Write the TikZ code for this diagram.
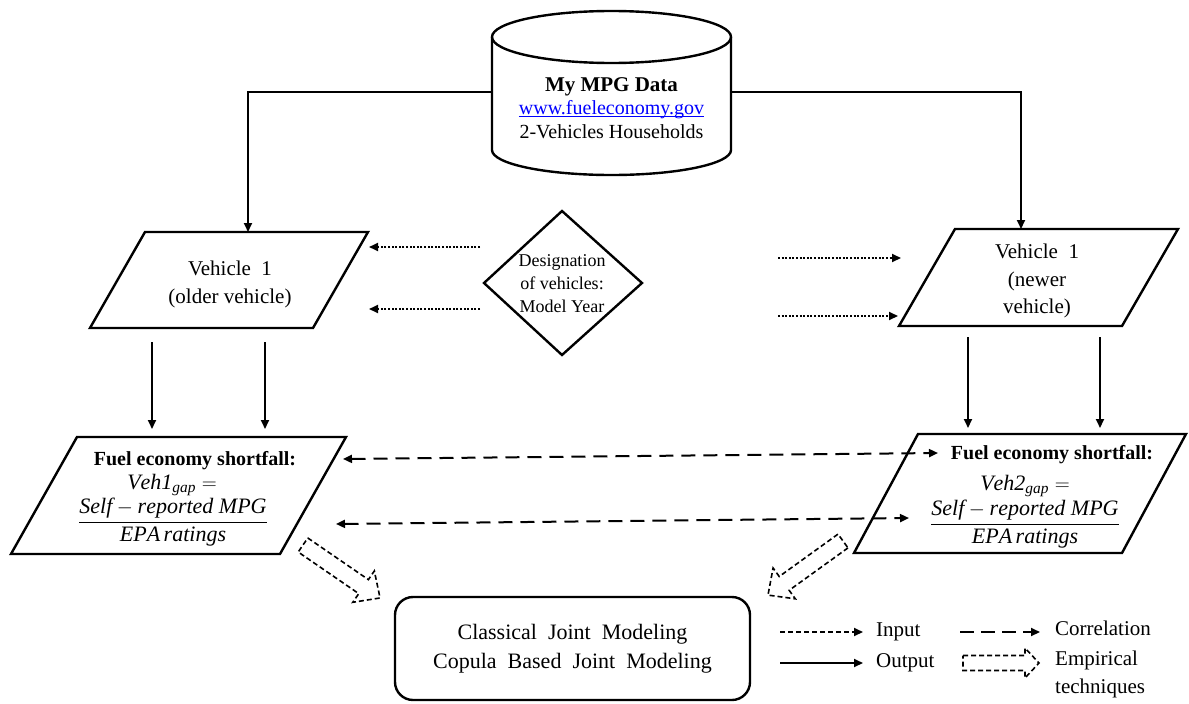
\documentclass[tikz,border=0pt]{standalone}
\usepackage{amsmath}
\usepackage{fontspec}
\setmainfont{Liberation Serif}
\usetikzlibrary{arrows.meta}
\newlength\lnkw
\newcommand\lnkul[1]{\settowidth\lnkw{#1}\rlap{\rule[-2.4pt]{\lnkw}{0.9pt}}#1}
\begin{document}
\begin{tikzpicture}[x=1pt,y=-1pt,
  box/.style={line width=2.4pt, line join=miter},
  conn/.style={line width=1.8pt, -{Triangle[length=9pt,width=8pt]}},
  inp/.style={line width=2pt, dash pattern=on 2pt off 1.6pt, -{Triangle[length=9pt,width=8pt]}},
  legin/.style={line width=2pt, dash pattern=on 5pt off 3pt, -{Triangle[length=9pt,width=8pt]}},
  corr/.style={line width=2pt, dash pattern=on 14pt off 8pt, {Triangle[length=9pt,width=8pt]}-{Triangle[length=9pt,width=8pt]}},
  legcorr/.style={line width=2pt, dash pattern=on 14pt off 7pt, -{Triangle[length=9pt,width=8pt]}},
  emp/.style={line width=1.6pt, dash pattern=on 5pt off 3pt, line join=miter},
  txt/.style={font=\fontsize{21}{28}\selectfont, align=center, inner sep=0pt},
  ltxt/.style={font=\fontsize{21}{28}\selectfont, align=left, anchor=west, inner sep=0pt},
]
\useasboundingbox (0,0) rectangle (1189,704);

% ---------- database cylinder ----------
\draw[box] (611.5,37) ellipse [x radius=119.5, y radius=26];
\draw[box] (492,37) -- (492,150)
  .. controls (492,163.8) and (545.5,175) .. (611.5,175)
  .. controls (677.5,175) and (731,163.8) .. (731,150) -- (731,37);
\node[txt, font=\fontsize{20}{23.5}\selectfont] (db) at (611.5,108)
  {\textbf{\fontsize{21}{23.5}\selectfont My\ MPG Data}\\ \textcolor{blue}{\lnkul{www.fueleconomy.gov}}\\ 2-Vehicles Households};
\coordinate (dbL) at (492,92);
\coordinate (dbR) at (731,92);

% ---------- vehicle boxes ----------
\draw[box] (145,232) -- (368,232) -- (313,328) -- (90,328) -- cycle;
\node[txt] (veh1) at (230,284) {Vehicle\ \ 1\\ (older\ vehicle)};
\coordinate (v1top) at (248,232);

\draw[box] (955,229) -- (1178,229) -- (1122,326) -- (899,326) -- cycle;
\node[txt, font=\fontsize{21}{27.5}\selectfont] (veh2) at (1037,281) {Vehicle\ \ 1\\ (newer\\ vehicle)};
\coordinate (v2top) at (1021,229);

% ---------- diamond ----------
\draw[box] (562,211) -- (642,283) -- (562,355) -- (484,283) -- cycle;
\node[txt, font=\fontsize{18}{23}\selectfont] (dia) at (562,284) {Designation\\ of vehicles:\\ Model Year};

% ---------- fuel boxes ----------
\draw[box] (77,437) -- (346,437) -- (280,554) -- (11,554) -- cycle;
\node[txt, font=\bfseries\fontsize{20}{24}\selectfont] (f1t) at (195,461) {Fuel economy shortfall:};
\node[txt, font=\fontsize{22}{24}\selectfont] (f1a) at (172,485) {$\mathit{Veh1}_{\mathit{gap}} =$};
\node[txt, font=\fontsize{22}{24}\selectfont] (f1b) at (173,522) {$\dfrac{\mathit{Self} - \mathit{reported\ MPG}}{\mathit{EPA\,ratings}}$};

\draw[box] (918,434) -- (1186,434) -- (1122,553) -- (854,553) -- cycle;
\node[txt, font=\bfseries\fontsize{20}{24}\selectfont] (f2t) at (1052,455) {Fuel economy shortfall:};
\node[txt, font=\fontsize{22}{24}\selectfont] (f2a) at (1025,486) {$\mathit{Veh2}_{\mathit{gap}} =$};
\node[txt, font=\fontsize{22}{24}\selectfont] (f2b) at (1025,524) {$\dfrac{\mathit{Self} - \mathit{reported\ MPG}}{\mathit{EPA\,ratings}}$};

% ---------- model box ----------
\node[draw, line width=2.4pt, rounded corners=18pt, minimum width=355pt, minimum height=103pt,
      txt, font=\fontsize{22}{29}\selectfont] (model) at (572.5,648.5)
  {Classical\ \ Joint\ \ Modeling\\ Copula\ \ Based\ \ Joint\ \ Modeling};

% ---------- connectors ----------
\draw[conn] (dbL) -| (v1top);
\draw[conn] (dbR) -| (v2top);

\coordinate (i1s) at (480,247); \coordinate (i1e) at (369,247);
\coordinate (i2s) at (480,309); \coordinate (i2e) at (369,309);
\coordinate (i3s) at (778,258); \coordinate (i3e) at (901,258);
\coordinate (i4s) at (778,316); \coordinate (i4e) at (898,316);
\draw[inp] (i1s) -- (i1e);
\draw[inp] (i2s) -- (i2e);
\draw[inp] (i3s) -- (i3e);
\draw[inp] (i4s) -- (i4e);

\coordinate (o1s) at (152,342); \coordinate (o1e) at (152,429);
\coordinate (o2s) at (265,342); \coordinate (o2e) at (265,429);
\coordinate (o3s) at (968,337); \coordinate (o3e) at (968,428);
\coordinate (o4s) at (1100,337); \coordinate (o4e) at (1100,428);
\draw[conn] (o1s) -- (o1e);
\draw[conn] (o2s) -- (o2e);
\draw[conn] (o3s) -- (o3e);
\draw[conn] (o4s) -- (o4e);

\coordinate (c1l) at (343,459); \coordinate (c1r) at (938,453);
\coordinate (c2l) at (336,524); \coordinate (c2r) at (909,518);
\draw[corr] (c1l) -- (c1r);
\draw[corr] (c2l) -- (c2r);

% empirical block arrows
\draw[emp, shift={(303,545)}, rotate=-34.5]
  (0,-8.5) -- (73.5,-8.5) -- (73.5,-19) -- (93.5,0) -- (73.5,19) -- (73.5,8.5) -- (0,8.5) -- cycle;
\draw[emp, shift={(843,541)}, rotate=-144.2]
  (0,-8.5) -- (72.5,-8.5) -- (72.5,-19) -- (92.5,0) -- (72.5,19) -- (72.5,8.5) -- (0,8.5) -- cycle;

% ---------- legend ----------
\coordinate (l1s) at (780,632); \coordinate (l1e) at (863,632);
\coordinate (l2s) at (960,632); \coordinate (l2e) at (1040,632);
\coordinate (l3s) at (780,663); \coordinate (l3e) at (863,663);
\draw[legin] (l1s) -- (l1e);
\draw[legcorr] (l2s) -- (l2e);
\draw[conn] (l3s) -- (l3e);
\draw[emp] (963,655.5) -- (1025,655.5) -- (1025,648) -- (1039,663) -- (1025,678) -- (1025,670.5) -- (963,670.5) -- cycle;
\node[ltxt] (lin) at (876,632) {Input};
\node[ltxt] (lout) at (876,663) {Output};
\node[ltxt] (lcorr) at (1055,628) {Correlation};
\node[ltxt] (lemp) at (1055,674) {Empirical\\ techniques};
\end{tikzpicture}
\end{document}
